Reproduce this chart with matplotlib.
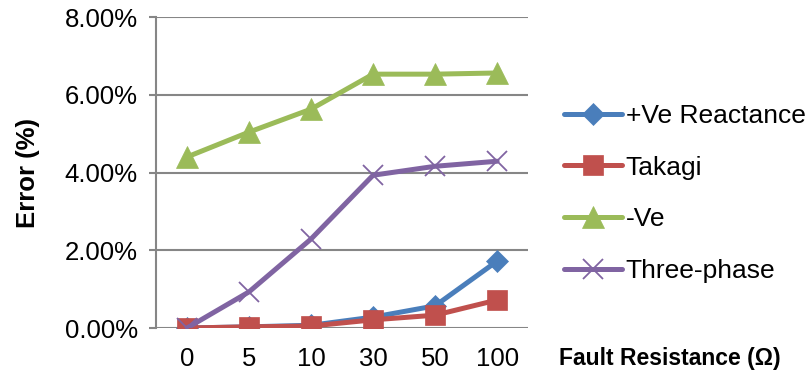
import matplotlib
matplotlib.use("Agg")
import matplotlib.pyplot as plt
from matplotlib.ticker import FuncFormatter

plt.rcParams['font.family'] = ['Liberation Sans', 'DejaVu Sans']

categories = ["0", "5", "10", "30", "50", "100"]
pos_ve_reactance = [0.00, 0.03, 0.07, 0.28, 0.57, 1.72]
takagi = [0.00, 0.03, 0.05, 0.21, 0.33, 0.72]
neg_ve = [4.40, 5.04, 5.63, 6.53, 6.53, 6.56]
three_phase = [0.00, 0.93, 2.29, 3.93, 4.16, 4.29]
y_ticks = [0, 2, 4, 6, 8]

series = [
    ("+Ve Reactance", pos_ve_reactance, "#4A7EBB", "D", 11),
    ("Takagi", takagi, "#C0504D", "s", 14),
    ("-Ve", neg_ve, "#9BBB59", "^", 16),
    ("Three-phase", three_phase, "#8064A2", "x", 15),
]

fig = plt.figure(figsize=(8.10, 3.83), dpi=100)
ax = fig.add_axes([0.1926, 0.1436, 0.4594, 0.8120])

x = list(range(len(categories)))
for name, vals, color, marker, ms in series:
    ax.plot(x, vals, color=color, lw=3.6, marker=marker, markersize=ms,
            markeredgewidth=1.3 if marker == "x" else 0.5,
            markeredgecolor=color, label=name, solid_capstyle="round",
            solid_joinstyle="round", zorder=3)

ax.set_xlim(-0.5, len(categories) - 0.5)
ax.set_ylim(0, 8)
ax.set_yticks(y_ticks)
ax.yaxis.set_major_formatter(FuncFormatter(lambda v, p: f"{v:.2f}%"))
ax.set_xticks(x)
ax.set_xticklabels(categories)

grid_color = "#868686"
ax.grid(axis="y", color=grid_color, lw=1.5, zorder=0)
for side in ("top", "right", "bottom"):
    ax.spines[side].set_visible(False)
ax.spines["left"].set_color(grid_color)
ax.spines["left"].set_linewidth(1.5)
ax.tick_params(axis="y", length=5, width=1.5, color=grid_color,
               labelsize=18.5, pad=8)
ax.tick_params(axis="x", length=0, labelsize=18.5, pad=14)

ax.set_ylabel("Error (%)", fontsize=18.5, fontweight="bold", labelpad=18)
fig.text(0.827, 0.065, "Fault Resistance (\u03a9)", fontsize=16.5,
         fontweight="bold", ha="center", va="center")

leg = fig.legend(loc="center left", bbox_to_anchor=(0.683, 0.495),
                 frameon=False, fontsize=19, handlelength=2.2,
                 handletextpad=0.15, labelspacing=1.05, borderaxespad=0)

fig.savefig("out.png", dpi=100)
